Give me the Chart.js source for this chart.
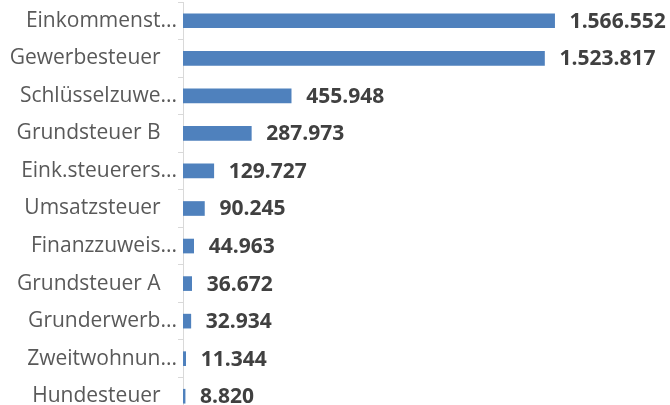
<!DOCTYPE html>
<html>
<head>
<meta charset="utf-8">
<script src="https://cdn.jsdelivr.net/npm/chart.js"></script>
<style>
  html, body { margin: 0; padding: 0; background: #fff; overflow: hidden; }
  #wrap { width: 670px; height: 416px; }
</style>
</head>
<body>
<div id="wrap"><canvas id="chart" width="670" height="416"></canvas></div>
<script>
// Steuereinnahmen nach Art (Balken, absteigend)
const categories = [
  "Einkommenst...",
  "Gewerbesteuer",
  "Schlüsselzuwe...",
  "Grundsteuer B",
  "Eink.steuerers...",
  "Umsatzsteuer",
  "Finanzzuweis...",
  "Grundsteuer A",
  "Grunderwerb...",
  "Zweitwohnun...",
  "Hundesteuer",
];
const values = [1566552, 1523817, 455948, 287973, 129727, 90245, 44963, 36672, 32934, 11344, 8820];
const xMax = 1800000;

const fmt = (v) => v.toLocaleString("de-DE");

// value labels right of each bar
const valueLabels = {
  id: "valueLabels",
  afterDatasetsDraw(chart) {
    const ctx = chart.ctx;
    const meta = chart.getDatasetMeta(0);
    ctx.save();
    ctx.font = "bold 21px 'Open Sans'";
    ctx.fillStyle = "#404040";
    ctx.textAlign = "left";
    ctx.textBaseline = "middle";
    meta.data.forEach((bar, i) => {
      ctx.fillText(fmt(values[i]), bar.x + 15, bar.y + 1);
    });
    ctx.restore();
  },
};

new Chart(document.getElementById("chart"), {
  type: "bar",
  data: {
    labels: categories,
    datasets: [
      {
        data: values,
        backgroundColor: "#4f81bd",
        borderWidth: 0,
        barThickness: 14,
      },
    ],
  },
  options: {
    indexAxis: "y",
    responsive: false,
    animation: false,
    layout: { padding: { top: 2, bottom: 1, right: 60, left: 0 } },
    plugins: {
      legend: { display: false },
      tooltip: { enabled: false },
    },
    scales: {
      x: { display: false, min: 0, max: xMax },
      y: {
        afterFit(scale) {
          scale.width = 183;
          scale.paddingTop = 0;
          scale.paddingBottom = 0;
        },
        grid: {
          drawOnChartArea: false,
          tickLength: 5,
          color: "#d9d9d9",
        },
        border: { display: true, color: "#d9d9d9" },
        ticks: {
          padding: 1,
          color: "#595959",
          font: { family: "'Open Sans'", size: 21 },
          // full names sit a bit further left than the cut ones
          callback(v) {
            const s = this.getLabelForValue(v);
            return s.endsWith("...") ? s : s + "   ";
          },
        },
      },
    },
  },
  plugins: [valueLabels],
});
</script>
</body>
</html>
